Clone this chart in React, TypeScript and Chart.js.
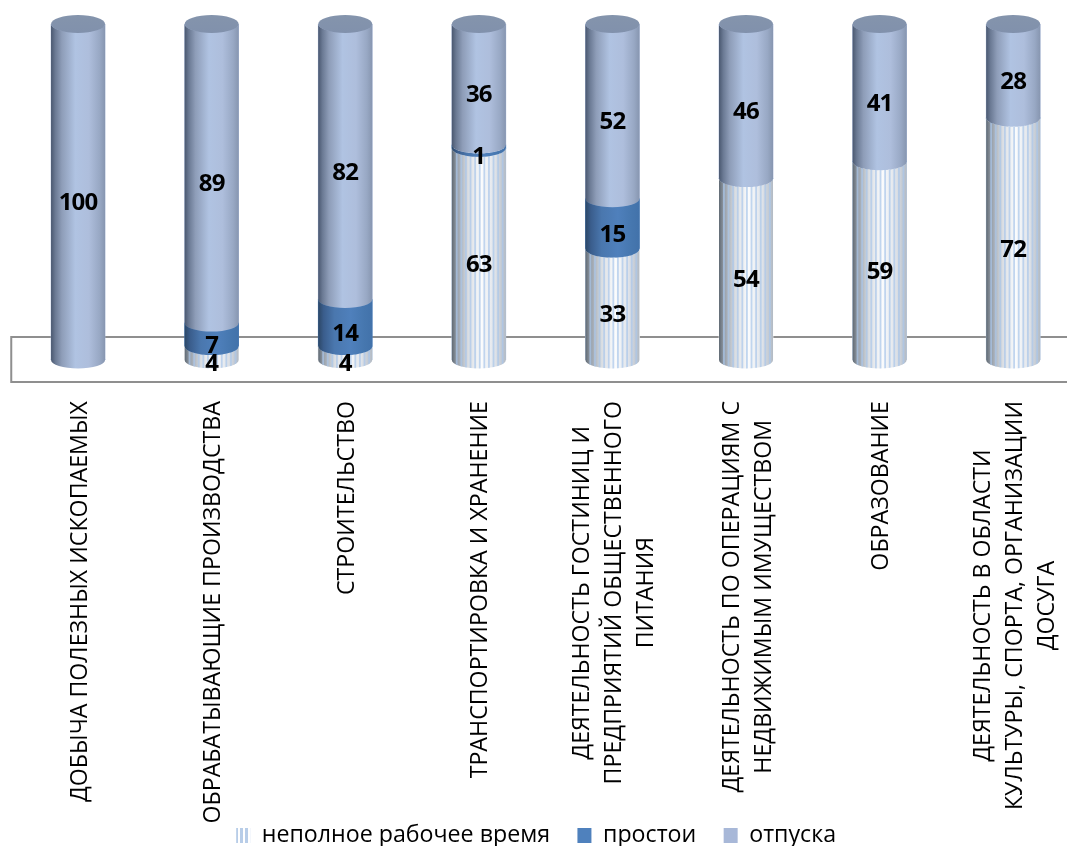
import React, { useEffect, useRef } from "react";
import { Chart, registerables } from "chart.js";

Chart.register(...registerables);

const categories: string[][] = [
  ["ДОБЫЧА ПОЛЕЗНЫХ ИСКОПАЕМЫХ"],
  ["ОБРАБАТЫВАЮЩИЕ ПРОИЗВОДСТВА"],
  ["СТРОИТЕЛЬСТВО"],
  ["ТРАНСПОРТИРОВКА И ХРАНЕНИЕ"],
  ["ДЕЯТЕЛЬНОСТЬ ГОСТИНИЦ И", "ПРЕДПРИЯТИЙ ОБЩЕСТВЕННОГО", "ПИТАНИЯ"],
  ["ДЕЯТЕЛЬНОСТЬ ПО ОПЕРАЦИЯМ С", "НЕДВИЖИМЫМ ИМУЩЕСТВОМ"],
  ["ОБРАЗОВАНИЕ"],
  ["ДЕЯТЕЛЬНОСТЬ В ОБЛАСТИ", "КУЛЬТУРЫ, СПОРТА, ОРГАНИЗАЦИИ", "ДОСУГА"],
];
const partTime = [0, 4, 4, 63, 33, 54, 59, 72];
const idle = [0, 7, 14, 1, 15, 0, 0, 0];
const vacation = [100, 89, 82, 36, 52, 46, 41, 28];

const FONT = "'Open Sans', sans-serif";
const CANVAS_W = 1080;
const CANVAS_H = 857;
const RY = 8.5;

type Stops = [number, string][];
const partStops: Stops = [[0, "#5f6973"], [0.1, "#98a0aa"], [0.3, "#d9dde2"], [0.55, "#fbfcfd"], [0.8, "#dfe3e9"], [1, "#b2bac4"]];
const idleStops: Stops = [[0, "#2c4766"], [0.1, "#3a5d8c"], [0.3, "#4a77ae"], [0.6, "#4f80bc"], [0.85, "#4677af"], [1, "#4272aa"]];
const vacStops: Stops = [[0, "#4a5870"], [0.08, "#6b7a94"], [0.2, "#8e9db8"], [0.45, "#b0c3e2"], [0.7, "#aebedc"], [0.9, "#98a8c4"], [1, "#8796b0"]];
const stopsByDataset = [partStops, idleStops, vacStops];

function sideGradient(ctx: CanvasRenderingContext2D, l: number, r: number, stops: Stops) {
  const g = ctx.createLinearGradient(l, 0, r, 0);
  stops.forEach(([o, c]) => g.addColorStop(o, c));
  return g;
}

const cylinderPlugin = {
  id: "cylinder",
  afterLayout(chart: any) {
    chart.legend.right -= 19;
  },
  beforeDatasetsDraw(chart: any) {
    const { ctx, scales } = chart;
    const y0 = scales.y.getPixelForValue(0);
    ctx.save();
    ctx.strokeStyle = "#8f8f8f";
    ctx.lineWidth = 2;
    ctx.strokeRect(scales.x.left, y0 - 23, scales.x.right - scales.x.left + 10, 45);
    ctx.restore();
  },
  afterDatasetsDraw(chart: any) {
    const { ctx, data } = chart;
    const n = data.labels.length;
    for (let i = 0; i < n; i++) {
      let last: any = null;
      data.datasets.forEach((ds: any, d: number) => {
        const el = chart.getDatasetMeta(d).data[i];
        if (!ds.data[i]) return;
        const l = el.x - el.width / 2;
        const r = el.x + el.width / 2;
        const rx = el.width / 2;
        ctx.save();
        ctx.beginPath();
        ctx.moveTo(l, el.base);
        ctx.ellipse(el.x, el.base, rx, RY, 0, Math.PI, 0, true);
        ctx.lineTo(r, el.y);
        ctx.ellipse(el.x, el.y, rx, RY, 0, 0, Math.PI, false);
        ctx.closePath();
        ctx.fillStyle = sideGradient(ctx, l, r, stopsByDataset[d]);
        ctx.fill();
        if (d === 0) {
          ctx.clip();
          ctx.fillStyle = "rgba(170,198,234,0.7)";
          for (let s = l + 4; s < r; s += 4.6) {
            ctx.fillRect(s, el.y - 2, 1.8, el.base - el.y + RY + 4);
          }
        }
        ctx.restore();
        last = el;
      });
      if (last) {
        const rx = last.width / 2;
        ctx.save();
        const g = ctx.createLinearGradient(0, last.y - RY, 0, last.y + RY);
        g.addColorStop(0, "#8494ac");
        g.addColorStop(1, "#8191ac");
        ctx.fillStyle = g;
        ctx.beginPath();
        ctx.ellipse(last.x, last.y, rx, RY + 0.5, 0, 0, Math.PI * 2);
        ctx.fill();
        ctx.restore();
      }
      data.datasets.forEach((ds: any, d: number) => {
        const v = ds.data[i];
        if (!v) return;
        const el = chart.getDatasetMeta(d).data[i];
        ctx.save();
        ctx.font = `700 24px ${FONT}`;
        (ctx as any).letterSpacing = "-0.8px";
        ctx.fillStyle = "#000";
        ctx.textAlign = "center";
        ctx.textBaseline = "middle";
        ctx.fillText(String(v), el.x, (el.y + el.base) / 2 + 11);
        ctx.restore();
      });
    }
  },
  afterDraw(chart: any) {
    const { ctx, scales } = chart;
    const x = scales.x;
    ctx.save();
    ctx.font = `23.2px ${FONT}`;
    ctx.fillStyle = "#000";
    ctx.textAlign = "center";
    ctx.textBaseline = "middle";
    chart.data.labels.forEach((lines: string[], i: number) => {
      const px = x.getPixelForTick(i);
      const block = Math.max(...lines.map((t) => ctx.measureText(t).width));
      ctx.save();
      ctx.translate(px + 2, 401);
      ctx.rotate(-Math.PI / 2);
      lines.forEach((t, k) => {
        ctx.fillText(t, -block / 2, (k - (lines.length - 1) / 2) * 32);
      });
      ctx.restore();
    });
    ctx.restore();
  },
};

function stripeSwatch(): CanvasPattern | string {
  const c = document.createElement("canvas");
  c.width = 5;
  c.height = 5;
  const g = c.getContext("2d");
  if (!g) return "#dbe5f3";
  g.fillStyle = "#ffffff";
  g.fillRect(0, 0, 5, 5);
  g.fillStyle = "#b8cde8";
  g.fillRect(0, 0, 3, 5);
  return g.createPattern(c, "repeat") || "#dbe5f3";
}

export default function App() {
  const ref = useRef<HTMLCanvasElement | null>(null);
  useEffect(() => {
    if (!ref.current) return;
    document.body.style.background = "#fff";
    const chart = new Chart(ref.current, {
      type: "bar",
      data: {
        labels: categories as any,
        datasets: [
          { label: "неполное рабочее время", data: partTime, backgroundColor: stripeSwatch() as any, barThickness: 54 },
          { label: "простои", data: idle, backgroundColor: "#4f81bd", barThickness: 54 },
          { label: "отпуска", data: vacation, backgroundColor: "#a8b8d8", barThickness: 54 },
        ],
      },
      options: {
        responsive: false,
        animation: false,
        layout: { padding: { left: 11.25, right: 0, top: 24, bottom: 0 } },
        plugins: {
          tooltip: { enabled: false },
          legend: {
            position: "bottom",
            labels: {
              boxWidth: 14,
              boxHeight: 15,
              padding: 27.4,
              color: "#000",
              font: { family: FONT, size: 23.2 },
            },
          },
        },
        scales: {
          x: {
            stacked: true,
            grid: { display: false },
            border: { display: false },
            ticks: { display: false },
            afterFit: (s: any) => {
              s.height = CANVAS_H - 360 - s.chart.legend.height;
            },
          },
          y: { stacked: true, display: false, min: 0, max: 100 },
        },
      },
      plugins: [cylinderPlugin as any],
    });
    return () => chart.destroy();
  }, []);
  return (
    <div style={{ position: "absolute", left: 0, top: 0, width: 1067, height: 846, overflow: "hidden", background: "#fff" }}>
      <canvas ref={ref} width={CANVAS_W} height={CANVAS_H} style={{ display: "block" }} />
    </div>
  );
}
